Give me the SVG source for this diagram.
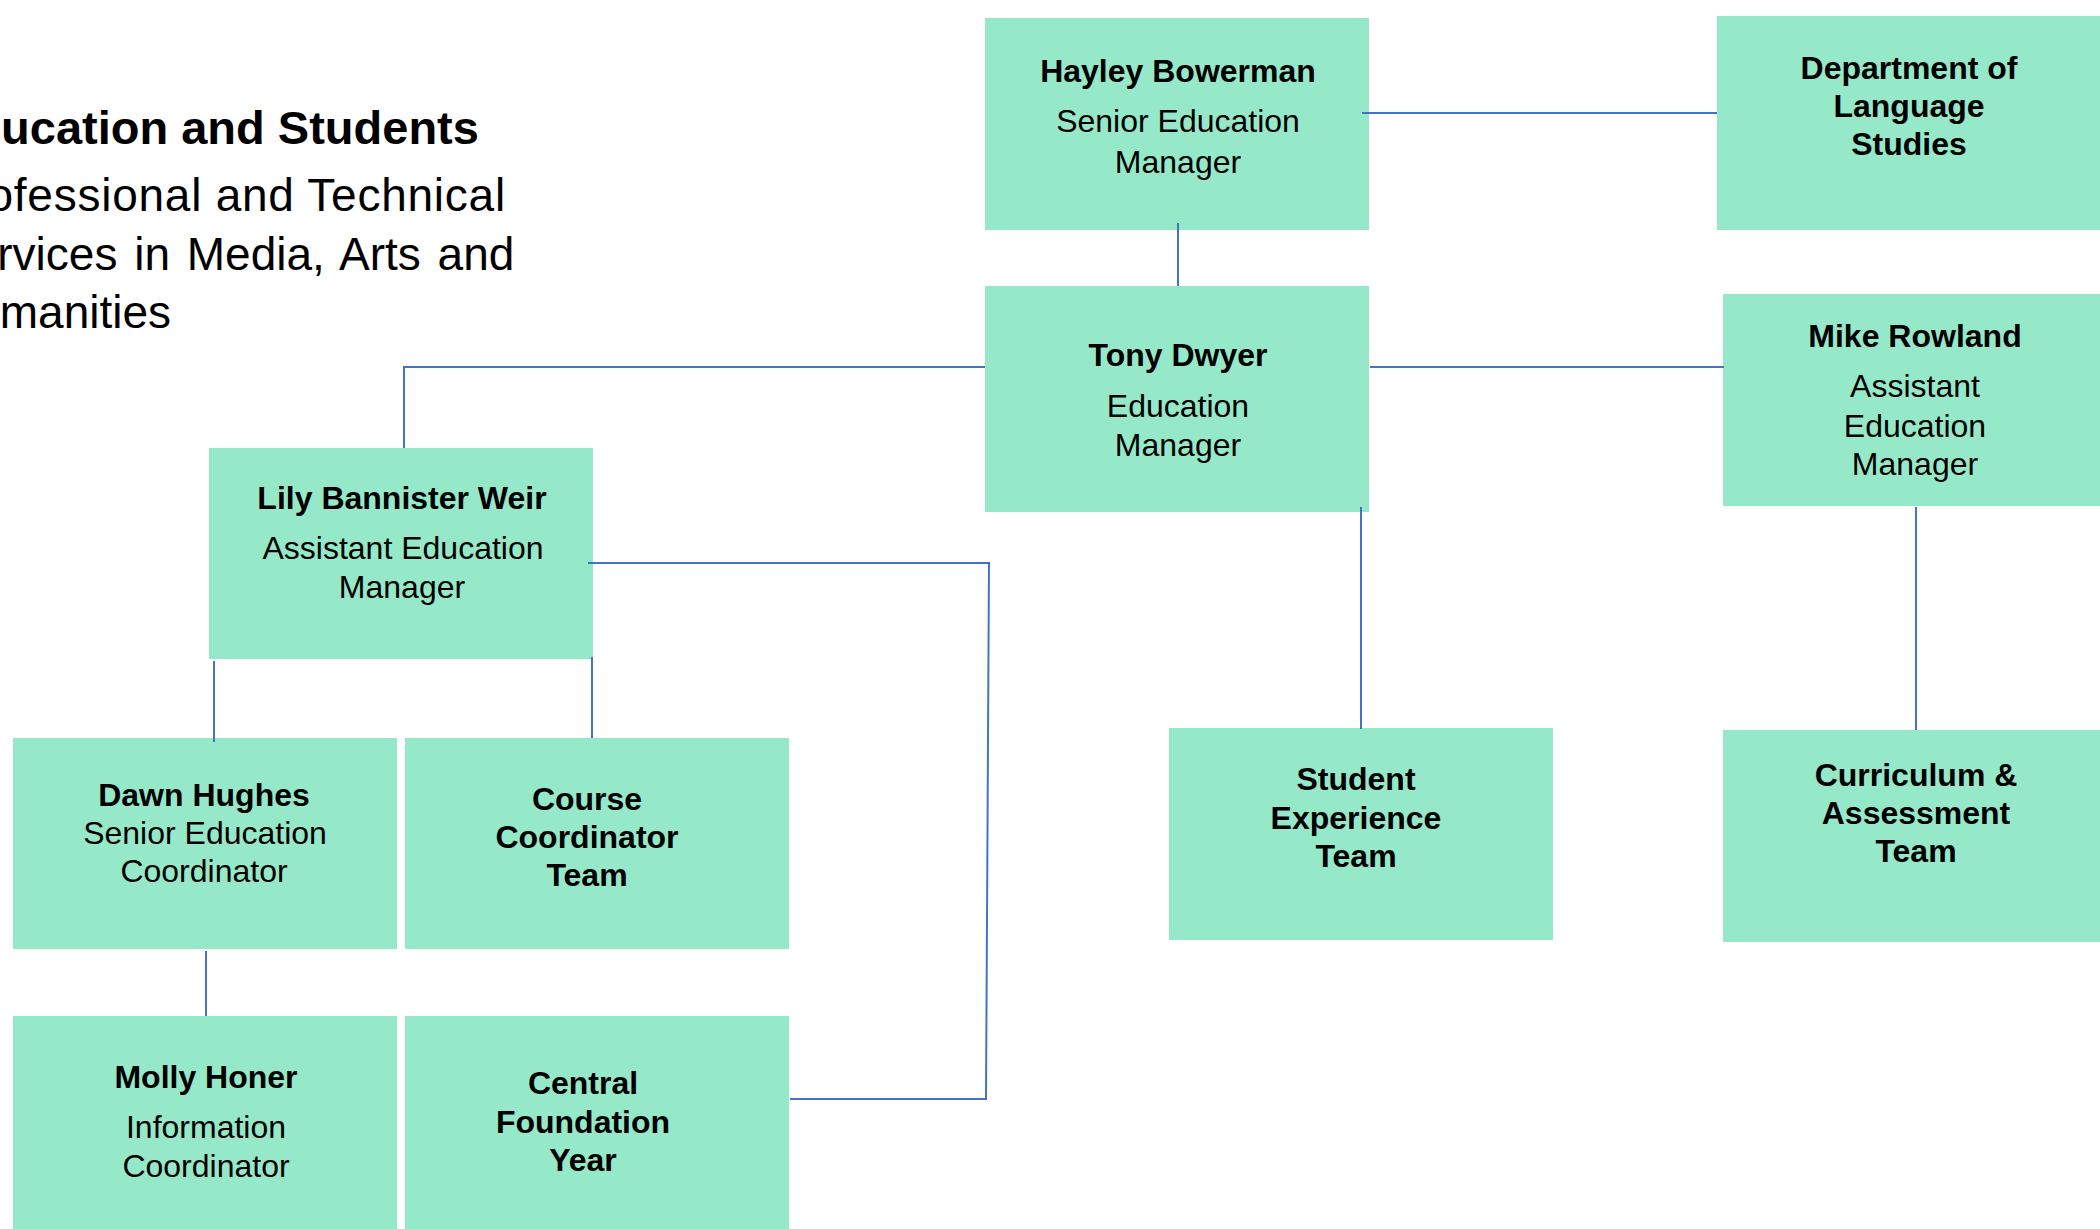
<svg xmlns="http://www.w3.org/2000/svg" width="2100" height="1229" viewBox="0 0 2100 1229">
<style>
.box{fill:#95E9C9}
.t{font-family:"Liberation Sans",Arial,sans-serif;font-size:32px;fill:#000;text-anchor:middle}
.b{font-weight:bold}
.c{stroke:#4472C4;stroke-width:2;fill:none}
.h{font-family:"Liberation Sans",Arial,sans-serif;fill:#000}
</style>
<rect width="2100" height="1229" fill="#fff"/>
<g id="title">
<text class="h" x="-59" y="144" font-size="47" font-weight="bold">Education and Students</text>
<text class="h" x="-60" y="211" font-size="46" letter-spacing="0.75">Professional and Technical</text>
<text class="h" x="-59" y="270" font-size="46" word-spacing="4">Services in Media, Arts and</text>
<text class="h" x="-59" y="328" font-size="46">Humanities</text>
</g>
<g transform="translate(0,1)">
<g id="hayley">
<rect class="box" x="985" y="17" width="384" height="212"/>
<text class="t b" x="1178" y="81">Hayley Bowerman</text>
<text class="t" x="1178" y="131">Senior Education</text>
<text class="t" x="1178" y="172">Manager</text>
</g>
<g id="dept">
<rect class="box" x="1717" y="15" width="383" height="214"/>
<text class="t b" x="1909" y="78">Department of</text>
<text class="t b" x="1909" y="116">Language</text>
<text class="t b" x="1909" y="154">Studies</text>
</g>
<g id="tony">
<rect class="box" x="985" y="285" width="384" height="226"/>
<text class="t b" x="1178" y="365">Tony Dwyer</text>
<text class="t" x="1178" y="416">Education</text>
<text class="t" x="1178" y="455">Manager</text>
</g>
<g id="mike">
<rect class="box" x="1723" y="293" width="377" height="212"/>
<text class="t b" x="1915" y="346">Mike Rowland</text>
<text class="t" x="1915" y="396">Assistant</text>
<text class="t" x="1915" y="436">Education</text>
<text class="t" x="1915" y="474">Manager</text>
</g>
<g id="lily">
<rect class="box" x="209" y="447" width="384" height="211"/>
<text class="t b" x="402" y="508">Lily Bannister Weir</text>
<text class="t" x="403" y="558">Assistant Education</text>
<text class="t" x="402" y="597">Manager</text>
</g>
<g id="student">
<rect class="box" x="1169" y="727" width="384" height="212"/>
<text class="t b" x="1356" y="789">Student</text>
<text class="t b" x="1356" y="828">Experience</text>
<text class="t b" x="1356" y="866">Team</text>
</g>
<g id="curriculum">
<rect class="box" x="1723" y="729" width="377" height="212"/>
<text class="t b" x="1916" y="785">Curriculum &amp;</text>
<text class="t b" x="1916" y="823">Assessment</text>
<text class="t b" x="1916" y="861">Team</text>
</g>
<g id="dawn">
<rect class="box" x="13" y="737" width="384" height="211"/>
<text class="t b" x="204" y="805">Dawn Hughes</text>
<text class="t" x="205" y="843">Senior Education</text>
<text class="t" x="204" y="881">Coordinator</text>
</g>
<g id="course">
<rect class="box" x="405" y="737" width="384" height="211"/>
<text class="t b" x="587" y="809">Course</text>
<text class="t b" x="587" y="847">Coordinator</text>
<text class="t b" x="587" y="885">Team</text>
</g>
<g id="molly">
<rect class="box" x="13" y="1015" width="384" height="214"/>
<text class="t b" x="206" y="1087">Molly Honer</text>
<text class="t" x="206" y="1137">Information</text>
<text class="t" x="206" y="1176">Coordinator</text>
</g>
<g id="central">
<rect class="box" x="405" y="1015" width="384" height="214"/>
<text class="t b" x="583" y="1093">Central</text>
<text class="t b" x="583" y="1132">Foundation</text>
<text class="t b" x="583" y="1170">Year</text>
</g>
</g>
<g id="connectors">
<path class="c" d="M1362 113H1717"/>
<path class="c" d="M1178 223V286"/>
<path class="c" d="M1370 367H1724"/>
<path class="c" d="M985 367H404V448"/>
<path class="c" d="M1361 507V729"/>
<path class="c" d="M1916 507V730"/>
<path class="c" d="M588 563H989L986 1099H790"/>
<path class="c" d="M214 661V742"/>
<path class="c" d="M592 657V738"/>
<path class="c" d="M206 951V1016"/>
</g>
</svg>
